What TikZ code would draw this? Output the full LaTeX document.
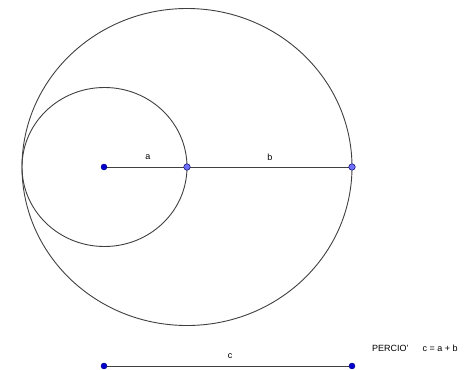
\documentclass[tikz,border=0pt]{standalone}
\usepackage{fontspec}
\setmainfont{Liberation Sans}
\definecolor{ptdark}{HTML}{0000CC}
\definecolor{ptlight}{HTML}{7070FF}
\definecolor{ln}{HTML}{404040}
\begin{document}
\begin{tikzpicture}[x=1pt,y=-1pt,
  curve/.style={draw=ln,line width=0.9pt},
  seg/.style={draw=ln,line width=1pt},
  dpt/.style={circle,fill=ptdark,draw=ptdark!60!black,line width=0.4pt,inner sep=0pt,minimum size=6pt},
  lpt/.style={circle,fill=ptlight,draw=ptdark!50!black,line width=0.5pt,inner sep=0pt,minimum size=6.5pt},
  lbl/.style={font=\fontsize{9}{11}\selectfont,inner sep=0pt}]
\useasboundingbox (0,0) rectangle (475,370);
\coordinate (o1) at (104.5,167);
\coordinate (o2) at (187,167);
\draw[curve] (o1) ellipse [x radius=82.5, y radius=79.5];
\draw[curve] (o2) ellipse [x radius=165, y radius=158.5];
\coordinate (A) at (104,167);
\coordinate (B) at (187,167);
\coordinate (C) at (352,167);
\coordinate (D) at (104,366);
\coordinate (E) at (352,366);
\draw[seg] (A) -- (B);
\draw[seg] (B) -- (C);
\draw[seg] (D) -- (E);
\node[dpt] (pA) at (A) {};
\node[lpt] (pB) at (B) {};
\node[lpt] (pC) at (C) {};
\node[dpt] (pD) at (D) {};
\node[dpt] (pE) at (E) {};
\node[lbl] (la) at (148,157) {a};
\node[lbl] (lb) at (270,157) {b};
\node[lbl] (lc) at (230,356) {c};
\node[lbl,anchor=west] (t) at (372,348) {PERCIO'\hspace{14pt}c = a + b};
\end{tikzpicture}
\end{document}
